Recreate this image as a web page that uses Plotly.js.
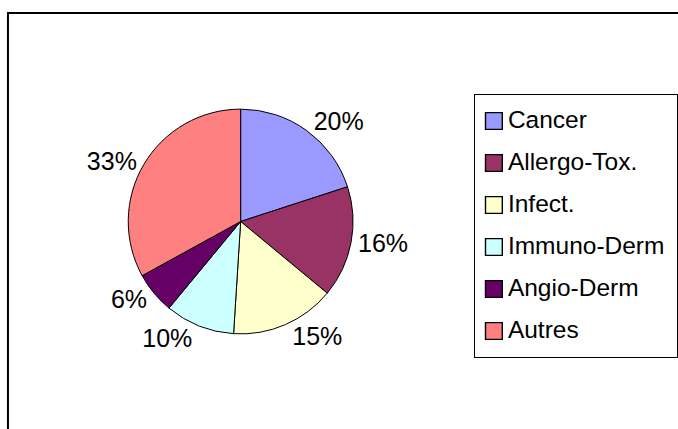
<!DOCTYPE html>
<html>
<head>
<meta charset="utf-8">
<script src="https://cdn.plot.ly/plotly-3.0.1.min.js"></script>
<style>
html,body{margin:0;padding:0;background:#fff;}
#chart{width:678px;height:429px;}
.legend path.legendpie{transform:translate(19px,0px) scale(1.4);}
.legend text.legendtext{transform:translate(-7px,-5px);}
</style>
</head>
<body>
<div id="chart"></div>
<script>
const categories = ["Cancer", "Allergo-Tox.", "Infect.", "Immuno-Derm", "Angio-Derm", "Autres"];
const shares = [20, 16, 15, 10, 6, 33];
const sliceColors = ["#9999FF", "#993366", "#FFFFCC", "#CCFFFF", "#660066", "#FF8080"];

const legendLabels = categories.map(c => '<span style="font-size:24.5px">' + c + '</span>');

const trace = {
  type: 'pie',
  labels: legendLabels,
  values: shares,
  sort: false,
  direction: 'clockwise',
  rotation: 0,
  marker: {colors: sliceColors, line: {color: '#000000', width: 1}},
  textinfo: 'percent',
  textposition: 'outside',
  outsidetextfont: {family: 'Liberation Sans, Arial, sans-serif', size: 25, color: '#000000'},
  domain: {x: [0.1900, 0.5230], y: [0.2214, 0.7459]},
  hoverinfo: 'label+percent',
  automargin: false
};

const layout = {
  width: 678,
  height: 429,
  margin: {l: 0, r: 0, t: 0, b: 0},
  paper_bgcolor: '#ffffff',
  plot_bgcolor: '#ffffff',
  font: {family: 'Liberation Sans, Arial, sans-serif', color: '#000000'},
  showlegend: true,
  legend: {
    x: 476 / 678, y: (429 - 94) / 429, xanchor: 'left', yanchor: 'top',
    bordercolor: '#000000', borderwidth: 1, bgcolor: '#ffffff',
    font: {family: 'Liberation Sans, Arial, sans-serif', size: 30, color: '#000000'},
    traceorder: 'normal'
  },
  shapes: [{
    type: 'rect', xref: 'paper', yref: 'paper',
    x0: 8 / 678, x1: 1.05, y0: -0.05, y1: (429 - 13) / 429,
    line: {color: '#000000', width: 2}, fillcolor: 'rgba(0,0,0,0)', layer: 'below'
  }]
};

Plotly.newPlot('chart', [trace], layout, {displayModeBar: false, staticPlot: true});
</script>
</body>
</html>
